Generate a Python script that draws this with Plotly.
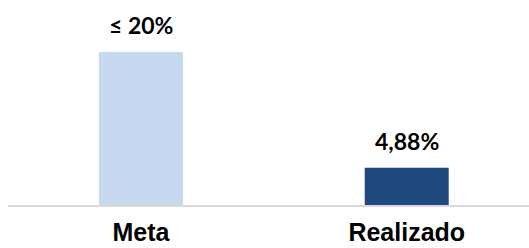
import plotly.graph_objects as go

categories = ["Meta", "Realizado"]
values = [20, 4.88]
value_labels = ["≤ 20%", "4,88%"]
colors = ["#C6D9F1", "#1F497D"]

fig = go.Figure(go.Bar(
    x=categories, y=values, marker_color=colors, width=0.316,
    marker_line_width=0, hoverinfo="skip",
))

for c, v, t in zip(categories, values, value_labels):
    fig.add_annotation(x=c, y=v, text="<b>%s</b>" % t, showarrow=False,
                       yanchor="bottom", yshift=11,
                       font=dict(family="Lato", size=23, color="#000000"))

fig.update_layout(
    width=529, height=248,
    margin=dict(l=8, r=0, t=0, b=43),
    plot_bgcolor="white", paper_bgcolor="white",
    showlegend=False,
    xaxis=dict(range=[-0.5, 1.46], showline=True, linecolor="#D9D9D9", linewidth=2,
               showgrid=False, zeroline=False, ticks="", ticklabelstandoff=4,
               automargin=False,
               tickfont=dict(family="Liberation Sans", size=25, color="#000000"),
               tickvals=categories, ticktext=["<b>%s</b>" % c for c in categories]),
    yaxis=dict(range=[0, 26.8], visible=False, showgrid=False, zeroline=False),
)

fig.write_html("out.html", config={"displayModeBar": False},
               post_script="document.body.style.margin='0';document.body.style.overflow='hidden';")
